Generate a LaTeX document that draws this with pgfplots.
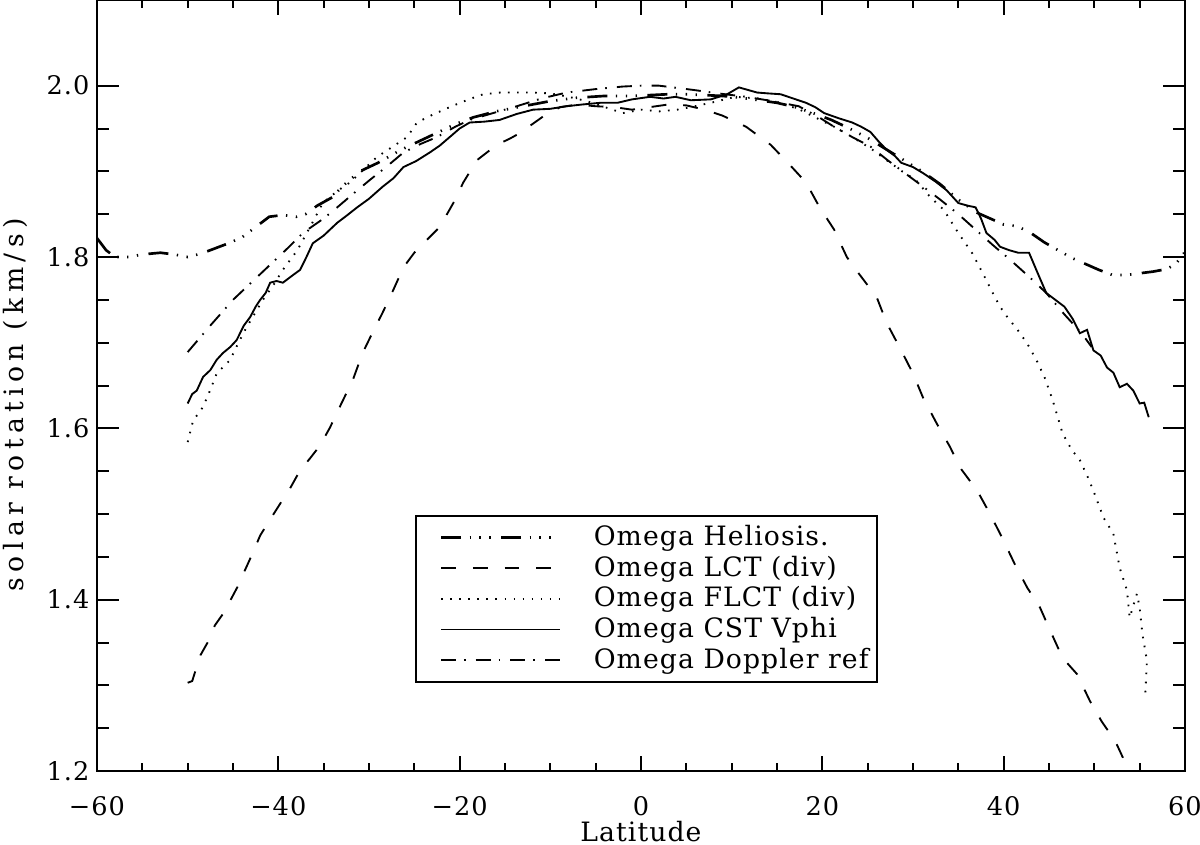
\documentclass[border=0pt]{standalone}
\usepackage{fontspec}
\setmainfont[LetterSpace=4]{DejaVu Serif}
\usepackage{pgfplots}
\pgfplotsset{compat=1.18}

\begin{document}
\begin{tikzpicture}
\begin{axis}[
	scale only axis,
	width=408pt, height=289.125pt,
	at={(0pt,0pt)}, anchor=south west,
	xmin=-60, xmax=60, ymin=1.2, ymax=2.1,
	xtick={-60,-40,-20,0,20,40,60},
	xticklabels={−60,−40,−20,0,20,40,60},
	ytick={1.2,1.4,1.6,1.8,2.0},
	yticklabels={1.2,1.4,1.6,1.8,2.0},
	minor x tick num=3, minor y tick num=3,
	major tick length=5.6pt, minor tick length=3pt,
	ytick style={/pgfplots/major tick length=8.3pt, /pgfplots/minor tick length=4.5pt},
	tick style={black, line width=0.75pt},
	axis line style={line width=0.75pt},
	tick label style={font=\fontsize{9.6}{11}\selectfont},
	xticklabel style={inner ysep=0pt, yshift=-9.2pt},
	yticklabel style={xshift=0.7pt},
	xlabel={Latitude},
	ylabel={\addfontfeature{LetterSpace=20}solar rotation (km/s)},
	xlabel style={at={(axis description cs:0.5,-0.078)}, anchor=center, inner sep=0pt},
	ylabel style={at={(axis description cs:-0.0754,0.475)}, anchor=center},
	legend style={at={(axis description cs:0.292,0.332)}, anchor=north west,
		draw=black, line width=0.75pt, inner xsep=1pt, inner ysep=1.5pt,
		cells={anchor=west}, row sep=-1.6pt, font=\normalsize},
	legend image code/.code={\draw[#1] (8pt,0pt) -- (52.6pt,0pt); \path (0pt,0pt) (62.8pt,0pt);},
]
% Omega Heliosis.
\addplot[black, line width=1pt, dash pattern=on 7.5pt off 3.2pt on 0.5pt off 3.2pt on 0.5pt off 3.2pt on 0.5pt off 3.9pt] coordinates {
(-60,1.822) (-59,1.808) (-58,1.800) (-56.5,1.800) (-55,1.803) (-53,1.805) (-51.5,1.803)
(-50,1.800) (-48.5,1.804) (-47,1.810) (-45.5,1.816) (-44,1.823) (-42.5,1.835) (-41,1.847)
(-39.5,1.849) (-38,1.847) (-37,1.850) (-35.7,1.860) (-34,1.870) (-33,1.882) (-31,1.900)
(-29,1.910) (-26.5,1.925) (-24.5,1.935) (-22.5,1.945) (-20.5,1.955) (-18.5,1.963)
(-16,1.970) (-13,1.976) (-10,1.982) (-7,1.986) (-4,1.988) (-1,1.988) (1,1.989) (3,1.990)
(5,1.990) (7,1.989) (9,1.988) (11,1.986) (13,1.983) (15,1.980) (17,1.975) (19,1.968)
(21,1.960) (23,1.950) (25,1.939) (27,1.926) (29,1.913) (31,1.900) (33,1.885) (35,1.867)
(37,1.852) (38.5,1.845) (40,1.838) (41.5,1.836) (43,1.828) (44.5,1.817) (46,1.808)
(47.5,1.799) (49,1.792) (50.5,1.785) (52,1.779) (53.5,1.779) (55,1.781) (56.5,1.783)
(58,1.786) (59,1.792) (60,1.806)
};
\addlegendentry{Omega Heliosis.}
% Omega LCT (div)
\addplot[black, line width=0.7pt, dash pattern=on 5.6pt off 6.3pt] coordinates {
(-50,1.303) (-49.5,1.305) (-48.6,1.335) (-47.8,1.350) (-47,1.370) (-46,1.385) (-45.3,1.399)
(-44.5,1.415) (-43.7,1.434) (-42.8,1.455) (-42,1.475) (-41,1.492) (-39.8,1.512) (-38.7,1.530)
(-37.6,1.551) (-36.5,1.565) (-35.4,1.580) (-34.3,1.601) (-33,1.630) (-31.8,1.656) (-30.7,1.688)
(-29.6,1.712) (-28.5,1.735) (-27.3,1.762) (-26.2,1.788) (-25,1.805) (-24,1.816) (-22.2,1.835)
(-20.7,1.863) (-19.6,1.887) (-18.1,1.913) (-17,1.922) (-15.9,1.931) (-14.5,1.938) (-13.3,1.945)
(-12,1.955) (-10.8,1.964) (-8.9,1.975) (-7,1.978) (-5,1.976) (-3,1.975) (-1,1.972) (1,1.975)
(3,1.978) (5,1.977) (7,1.972) (9,1.965) (11.6,1.952) (14.3,1.931) (16.2,1.910) (18.2,1.887)
(19.7,1.858) (21.3,1.832) (22.7,1.800) (24,1.781) (26,1.753) (27.1,1.723) (28.6,1.693)
(30,1.664) (31.1,1.636) (32.6,1.606) (34.1,1.578) (35.2,1.554) (37.1,1.527) (38.5,1.500)
(39.8,1.473) (41.2,1.442) (42.6,1.414) (44,1.391) (45.3,1.360) (46.5,1.332) (48.1,1.313)
(49.5,1.282) (50.8,1.258) (52.3,1.235) (53.4,1.210) (54,1.200)
};
\addlegendentry{Omega LCT (div)}
% Omega FLCT (div)
\addplot[black, line width=0.7pt, dash pattern=on 0.6pt off 2.8pt] coordinates {
(-50,1.584) (-49.4,1.609) (-48.3,1.625) (-47.5,1.645) (-46.8,1.664) (-45.3,1.680) (-44.4,1.700)
(-43.5,1.718) (-41.7,1.750) (-40.5,1.768) (-39.5,1.785) (-37.9,1.808) (-36.5,1.835) (-35.1,1.863)
(-33.5,1.877) (-32.1,1.887) (-30.5,1.903) (-29.1,1.917) (-27.5,1.928) (-25.8,1.940) (-24.7,1.957)
(-23,1.966) (-21.1,1.975) (-19,1.984) (-17.4,1.990) (-15.5,1.992) (-13.7,1.992) (-12,1.992)
(-10,1.991) (-8,1.987) (-6,1.982) (-4,1.975) (-2,1.968) (0,1.972) (2,1.970) (4,1.972)
(5.5,1.975) (7.7,1.980) (10.4,1.987) (13,1.985) (15.4,1.980) (17.5,1.972) (19.4,1.962)
(21.5,1.951) (23.3,1.940) (25.3,1.927) (27.1,1.913) (28.8,1.900) (30.3,1.890) (31.9,1.870)
(33.4,1.855) (35,1.828) (36.5,1.805) (37.7,1.781) (38.8,1.758) (39.6,1.742) (40.4,1.730)
(41.6,1.714) (42.6,1.699) (43.6,1.680) (44.5,1.660) (45.4,1.633) (46.5,1.594) (47.5,1.575)
(48.4,1.563) (49.2,1.545) (49.9,1.527) (51,1.496) (52.1,1.477) (52.8,1.437) (53.6,1.411)
(53.9,1.379) (54.7,1.407) (55,1.391) (55.3,1.360) (55.8,1.329) (55.6,1.285)
};
\addlegendentry{Omega FLCT (div)}
% Omega CST Vphi
\addplot[black, line width=0.7pt] coordinates {
(-50,1.629) (-49.5,1.640) (-49,1.644) (-48.3,1.660) (-47.5,1.668) (-46.8,1.680) (-46.1,1.688)
(-45.3,1.695) (-44.6,1.703) (-43.8,1.720) (-43.1,1.730) (-42.5,1.742) (-42,1.750) (-41.4,1.758)
(-40.9,1.770) (-40.2,1.772) (-39.5,1.770) (-38.5,1.778) (-37.6,1.785) (-36.9,1.800) (-36.2,1.816)
(-35,1.825) (-33.5,1.840) (-32.5,1.848) (-31.3,1.858) (-30,1.868) (-28.5,1.882) (-27.3,1.892)
(-26.2,1.905) (-24.8,1.912) (-23.3,1.922) (-22.2,1.930) (-21.1,1.940) (-20,1.950) (-18.9,1.957)
(-17.3,1.958) (-15.6,1.960) (-13.7,1.967) (-11.9,1.972) (-10,1.973) (-8.2,1.976) (-6.5,1.978)
(-4.5,1.980) (-2.6,1.980) (-1,1.984) (1,1.987) (2.5,1.985) (3.8,1.987) (5.5,1.983) (7.7,1.984)
(9.5,1.990) (10.8,1.998) (11.8,1.995) (12.8,1.992) (14,1.991) (15.4,1.990) (16.8,1.985)
(18.2,1.980) (19.2,1.975) (20.2,1.968) (21.8,1.962) (23.3,1.957) (24.3,1.952) (25.3,1.946)
(26.2,1.935) (27.1,1.925) (28,1.918) (28.7,1.910) (30,1.905) (31.1,1.898) (32.5,1.888)
(33.7,1.878) (35,1.863) (36,1.860) (36.9,1.858) (37.5,1.845) (38.1,1.828) (39,1.820)
(39.6,1.812) (40.6,1.808) (41.6,1.805) (42.8,1.805) (43.8,1.780) (44.7,1.758) (45.7,1.750)
(46.7,1.742) (47.6,1.728) (48.4,1.711) (49.2,1.715) (49.9,1.691) (50.7,1.685) (51.4,1.671)
(52.1,1.665) (52.8,1.648) (53.6,1.652) (54.3,1.644) (55,1.629) (55.5,1.630) (56,1.613)
};
\addlegendentry{Omega CST Vphi}
% Omega Doppler ref
\addplot[black, line width=0.7pt, dash pattern=on 5.6pt off 3pt on 0.6pt off 3.8pt] coordinates {
(-50,1.689) (-47.5,1.720) (-45,1.750) (-43,1.770) (-41.2,1.788) (-39,1.810) (-37.3,1.828)
(-35,1.845) (-33.5,1.858) (-31.5,1.876) (-29.9,1.890) (-28,1.906) (-26.2,1.922) (-24.3,1.932)
(-22.5,1.940) (-20.5,1.952) (-18.9,1.960) (-16,1.969) (-13.7,1.976) (-11,1.985) (-8.2,1.992)
(-5,1.996) (-2,1.999) (0,2.000) (2,2.000) (5.8,1.995) (8.5,1.991) (11.6,1.987) (14.5,1.982)
(17.4,1.976) (19.5,1.964) (21.3,1.952) (23.3,1.940) (25.3,1.929) (27.2,1.913) (29.1,1.898)
(31,1.883) (33,1.867) (35,1.850) (36.9,1.832) (38.8,1.814) (40.8,1.796) (42.8,1.777)
(44.7,1.758) (46.7,1.733) (48.6,1.711) (49.7,1.695)
};
\addlegendentry{Omega Doppler ref}
\end{axis}
\pgfresetboundingbox
\path (-36.375pt,-27.375pt) rectangle (413.625pt,289.125pt);
\end{tikzpicture}
\end{document}
